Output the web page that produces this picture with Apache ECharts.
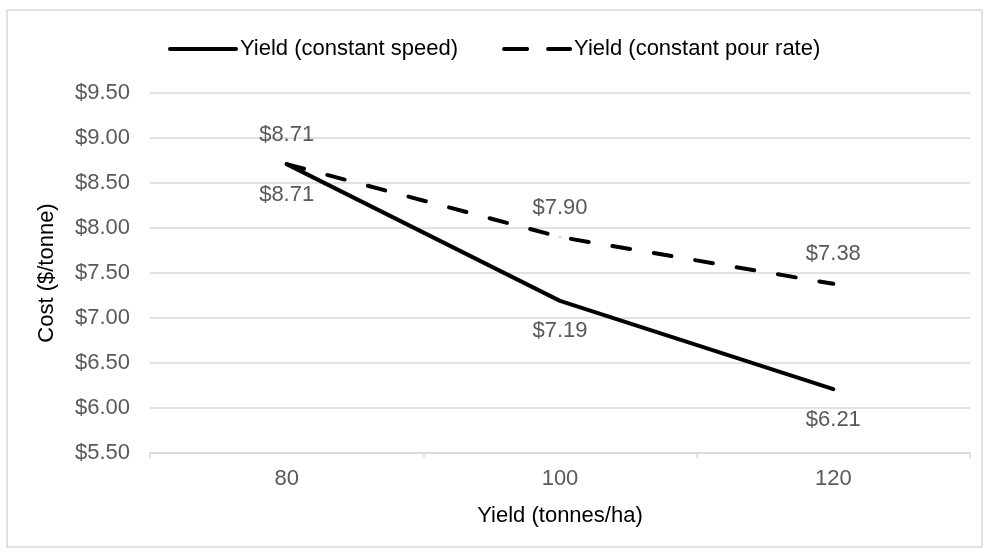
<!DOCTYPE html>
<html>
<head>
<meta charset="utf-8">
<script src="https://cdn.jsdelivr.net/npm/echarts@6/dist/echarts.min.js"></script>
<style>
  html, body { margin: 0; padding: 0; background: #fff; }
  #chart { width: 987px; height: 552px; }
</style>
</head>
<body>
<div id="chart"></div>
<script>
// data
var yields = ['80', '100', '120'];
var costSpeed = [8.71, 7.19, 6.21];
var costPour = [8.71, 7.90, 7.38];

var FONT = 'Arial, Liberation Sans, sans-serif';
var chart = echarts.init(document.getElementById('chart'));
var labelStyle = {
  show: true,
  fontFamily: FONT,
  fontSize: 22,
  color: '#595959',
  formatter: function (p) { return '$' + p.value.toFixed(2); }
};
var option = {
  animation: false,
  graphic: [{
    type: 'rect',
    shape: { x: 7, y: 10, width: 975, height: 537 },
    style: { fill: 'none', stroke: '#d9d9d9', lineWidth: 1.5 },
    silent: true
  }],
  legend: {
    top: 33,
    left: 163,
    itemWidth: 70,
    itemHeight: 5,
    itemGap: 44,
    textStyle: { fontFamily: FONT, fontSize: 22, color: '#000', padding: [0, 0, 0, -3] },
    data: [
      { name: 'Yield (constant speed)', icon: 'path://M2,0 L68,0 A2,2 0 0 1 68,4 L2,4 A2,2 0 0 1 2,0 Z' },
      { name: 'Yield (constant pour rate)', icon: 'path://M2,0 L25,0 A2,2 0 0 1 25,4 L2,4 A2,2 0 0 1 2,0 Z M46,0 L68,0 A2,2 0 0 1 68,4 L46,4 A2,2 0 0 1 46,0 Z' }
    ],
    itemStyle: { color: '#000' }
  },
  grid: { left: 150, right: 17, top: 93, bottom: 99 },
  xAxis: {
    type: 'category',
    data: yields,
    boundaryGap: true,
    name: 'Yield (tonnes/ha)',
    nameLocation: 'middle',
    nameGap: 52,
    nameTextStyle: { fontFamily: FONT, fontSize: 22, color: '#000' },
    axisLine: { lineStyle: { color: '#d9d9d9', width: 1.5 } },
    axisTick: { show: true, length: 5, lineStyle: { color: '#d9d9d9', width: 1.5 } },
    axisLabel: { fontFamily: FONT, fontSize: 22, color: '#595959', margin: 15 }
  },
  yAxis: {
    type: 'value',
    min: 5.5,
    max: 9.5,
    interval: 0.5,
    name: 'Cost ($/tonne)',
    nameLocation: 'middle',
    nameGap: 92,
    nameTextStyle: { fontFamily: FONT, fontSize: 22, color: '#000' },
    axisLine: { show: false },
    axisTick: { show: false },
    splitLine: { lineStyle: { color: '#d9d9d9', width: 1.5 } },
    axisLabel: {
      fontFamily: FONT, fontSize: 22, color: '#595959', margin: 20,
      formatter: function (v) { return '$' + v.toFixed(2); }
    }
  },
  series: [
    {
      name: 'Yield (constant speed)',
      type: 'line',
      data: costSpeed,
      symbol: 'circle',
      symbolSize: 1,
      lineStyle: { color: '#000', width: 4, cap: 'round' },
      itemStyle: { color: '#000' },
      label: Object.assign({}, labelStyle, { position: 'bottom', distance: 19 })
    },
    {
      name: 'Yield (constant pour rate)',
      type: 'line',
      data: costPour,
      symbol: 'circle',
      symbolSize: 1,
      lineStyle: { color: '#000', width: 4, type: [18, 24], cap: 'round' },
      itemStyle: { color: '#000' },
      label: Object.assign({}, labelStyle, { position: 'top', distance: 18 })
    }
  ]
};
chart.setOption(option);
</script>
</body>
</html>
